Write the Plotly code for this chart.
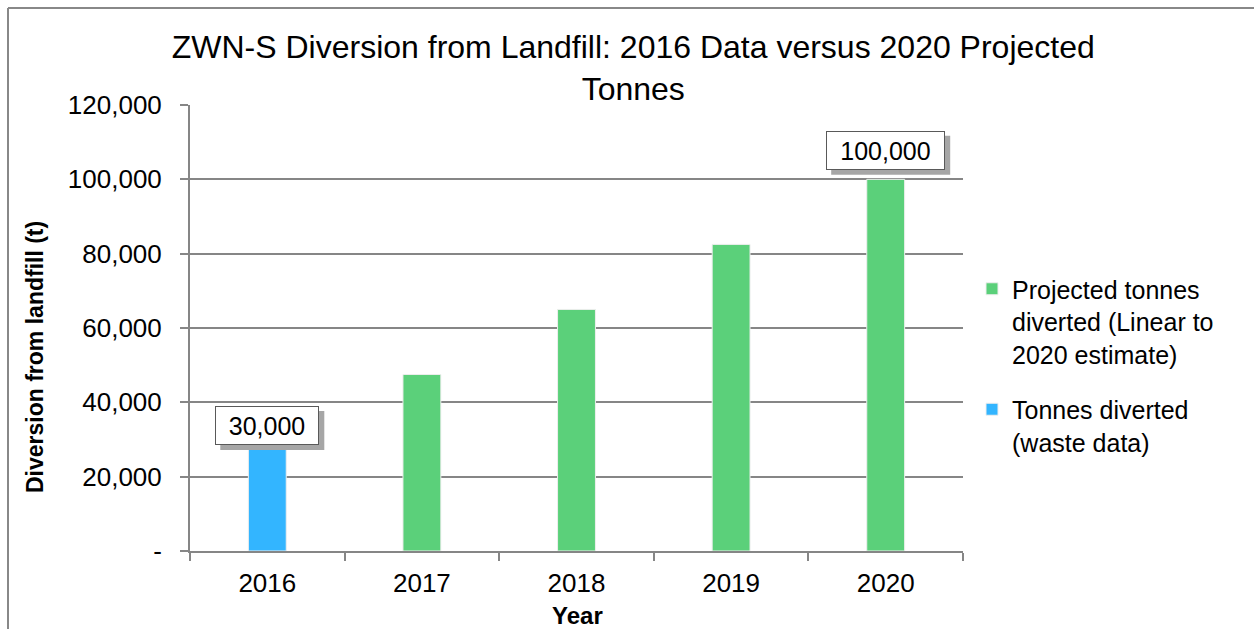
import plotly.graph_objects as go

# Data
years = ["2016", "2017", "2018", "2019", "2020"]
actual_years = ["2016"]
actual_tonnes = [30000]
projected_years = ["2017", "2018", "2019", "2020"]
projected_tonnes = [47500, 65000, 82500, 100000]
label_years = ["2016", "2020"]
label_values = [30000, 100000]
label_texts = ["30,000", "100,000"]
y_ticks = [0, 20000, 40000, 60000, 80000, 100000, 120000]
y_tick_text = ["-", "20,000", "40,000", "60,000", "80,000", "100,000", "120,000"]

FONT = "Liberation Sans, Arial, sans-serif"
GREEN = "#5bd07a"
BLUE = "#33b5ff"
GRID = "#868686"

W, H = 1254, 629
ML, MR, MT, MB = 190, 291, 105, 78
PW, PH = W - ML - MR, H - MT - MB

fig = go.Figure()
fig.add_trace(go.Bar(
    x=projected_years, y=projected_tonnes,
    name="Projected tonnes<br>diverted (Linear to<br>2020 estimate)",
    marker=dict(color=GREEN, line=dict(color="#eeeeee", width=1)),
    width=0.245, legendgroup="a",
))
fig.add_trace(go.Bar(
    x=actual_years, y=actual_tonnes,
    name="Tonnes diverted<br>(waste data)",
    marker=dict(color=BLUE, line=dict(color="#eeeeee", width=1)),
    width=0.245, legendgroup="b",
))

# value labels: white boxed text with a grey drop shadow
label_shift = {"2016": 14, "2020": 29}
label_width = {"2016": 98, "2020": 113}
BOX_H, PAD, BW, SH = 33, 2, 1, 5
for yr, val, txt in zip(label_years, label_values, label_texts):
    xi = years.index(yr)
    full_w = label_width[yr] + 2 * PAD + 2 * BW
    full_h = BOX_H + 2 * PAD + 2 * BW
    dy = label_shift[yr]
    fig.add_shape(type="rect", xref="x", yref="y",
                  xsizemode="pixel", ysizemode="pixel",
                  xanchor=xi, yanchor=val,
                  x0=-full_w / 2 + SH, x1=full_w / 2 + SH,
                  y0=dy - SH - full_h / 2, y1=dy - SH + full_h / 2,
                  fillcolor="#a6a6a6", line=dict(width=0), layer="above")
    fig.add_annotation(x=xi, y=val, xref="x", yref="y", showarrow=False,
                       text=txt, width=label_width[yr], height=BOX_H,
                       borderpad=PAD, borderwidth=BW,
                       xanchor="center", yanchor="middle", yshift=dy,
                       font=dict(family=FONT, size=25, color="black"),
                       bgcolor="white", bordercolor="#595959")

# axis titles
fig.add_annotation(text="<b>Diversion from landfill (t)</b>", textangle=-90,
                   xref="paper", yref="paper", x=(35 - ML) / PW, y=(551 - 357) / PH,
                   xanchor="center", yanchor="middle", showarrow=False,
                   font=dict(family=FONT, size=23, color="black"))
fig.add_annotation(text="<b>Year</b>",
                   xref="paper", yref="paper", x=(577 - ML) / PW, y=(551 - 615) / PH,
                   xanchor="center", yanchor="middle", showarrow=False,
                   font=dict(family=FONT, size=24, color="black"))

# outer frame (top and left edges visible)
fx = (8 - ML) / PW
fy = (H - MB - 8) / PH
fig.add_shape(type="line", xref="paper", yref="paper", x0=fx, x1=2, y0=fy, y1=fy,
              line=dict(color="#888888", width=2))
fig.add_shape(type="line", xref="paper", yref="paper", x0=fx, x1=fx, y0=fy, y1=-1,
              line=dict(color="#888888", width=2))

fig.update_layout(
    width=W, height=H,
    margin=dict(l=ML, r=MR, t=MT, b=MB),
    paper_bgcolor="white", plot_bgcolor="white",
    barmode="overlay",
    font=dict(family=FONT, size=25, color="black"),
    title=dict(text="ZWN-S Diversion from Landfill: 2016 Data versus 2020 Projected<br>Tonnes",
               x=0.505, xref="container", xanchor="center",
               y=1 - 58 / H, yref="container", yanchor="top",
               font=dict(family=FONT, size=32, color="black")),
    legend=dict(x=(972 - ML) / PW, xanchor="left", y=(551 - 266) / PH, yanchor="top",
                font=dict(family=FONT, size=25), valign="top",
                tracegroupgap=20, bgcolor="rgba(0,0,0,0)"),
    showlegend=True,
    xaxis=dict(categoryorder="array", categoryarray=years, range=[-0.5, 4.5],
               showline=True, linecolor=GRID, linewidth=2,
               ticks="outside", tickson="boundaries", ticklen=8, tickcolor=GRID,
               tickwidth=2, showgrid=False, fixedrange=True, ticklabelstandoff=8,
               tickfont=dict(family=FONT, size=26)),
    yaxis=dict(range=[0, 120000], tickvals=y_ticks, ticktext=y_tick_text,
               showline=True, linecolor=GRID, linewidth=2,
               ticks="outside", ticklen=8, tickcolor=GRID, tickwidth=2,
               showgrid=True, gridcolor=GRID, gridwidth=1.5,
               zeroline=False, ticklabelstandoff=13,
               tickfont=dict(family=FONT, size=26)),
)

fig.write_html("out.html")
